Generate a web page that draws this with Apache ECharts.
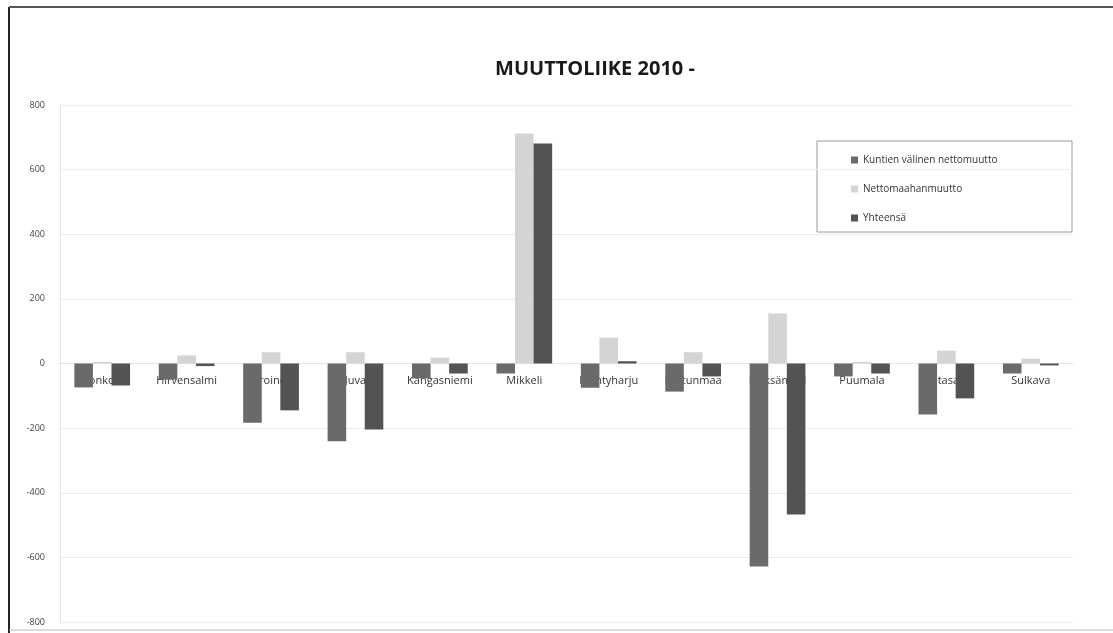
<!DOCTYPE html>
<html>
<head>
<meta charset="utf-8">
<script src="https://cdn.jsdelivr.net/npm/echarts@6/dist/echarts.min.js"></script>
<style>
  html, body { margin: 0; padding: 0; background: #fff; }
  #Canvas { width: 1113px; height: 633px; }
</style>
</head>
<body>
<div id="Canvas"></div>
<script>
  // kunnat
  var kunnat = ['Enonkoski', 'Hirvensalmi', 'Joroinen', 'Juva', 'Kangasniemi', 'Mikkeli',
    'Mäntyharju', 'Pertunmaa', 'Pieksämäki', 'Puumala', 'Rantasalmi', 'Sulkava'];
  var kuntienValinen = [-74, -50, -183, -241, -46, -31, -75, -87, -628, -40, -158, -31];
  var nettomaahanmuutto = [5, 25, 35, 35, 18, 712, 80, 35, 155, 5, 40, 15];
  var yhteensa = [-68, -8, -145, -204, -31, 681, 7, -40, -467, -31, -108, -6];
  var yTicks = [-800, -600, -400, -200, 0, 200, 400, 600, 800];

  var gridTop = 105, gridBottom = 11, chartH = 633;
  // nolla-akselin siirto: kategoria-akseli piirretään nollan kohdalle
  var plotH = chartH - gridTop - gridBottom;
  var zeroShift = -plotH * (0 - yTicks[0]) / (yTicks[yTicks.length - 1] - yTicks[0]);

  var myChart = echarts.init(document.getElementById('Canvas'));
  var option = {
    animation: false,
    backgroundColor: '#fff',
    textStyle: { fontFamily: 'Open Sans' },
    title: {
      text: 'MUUTTOLIIKE 2010 -',
      left: 590,
      textAlign: 'center',
      top: 54,
      textStyle: { fontSize: 20, fontWeight: 'bold', color: '#1a1a1a', fontFamily: 'Open Sans' }
    },
    graphic: [
      { type: 'line', shape: { x1: 9, y1: 7, x2: 9, y2: 633 }, style: { stroke: '#222', lineWidth: 2 } },
      { type: 'line', shape: { x1: 9, y1: 7, x2: 1113, y2: 7 }, style: { stroke: '#555', lineWidth: 2 } },
      { type: 'line', shape: { x1: 9, y1: 630, x2: 1113, y2: 630 }, style: { stroke: '#bbb', lineWidth: 1 } },
      { type: 'rect', shape: { x: 817, y: 141, width: 255, height: 91 }, style: { fill: 'none', stroke: '#999', lineWidth: 1 } }
    ],
    legend: {
      orient: 'vertical',
      left: 846,
      top: 150,
      itemWidth: 7,
      itemHeight: 7,
      itemGap: 19,
      icon: 'rect',
      textStyle: { fontSize: 10, color: '#333' },
      data: ['Kuntien välinen nettomuutto', 'Nettomaahanmuutto', 'Yhteensä']
    },
    grid: { left: 60, right: 40, top: gridTop, bottom: gridBottom },
    xAxis: {
      type: 'category',
      data: kunnat,
      offset: zeroShift,
      axisLine: { onZero: false, lineStyle: { color: '#e4e4e4' } },
      axisTick: { show: false },
      axisLabel: { margin: 12, fontSize: 11, color: '#333', interval: 0 }
    },
    yAxis: {
      type: 'value',
      min: yTicks[0],
      max: yTicks[yTicks.length - 1],
      interval: 200,
      axisLine: { show: true, lineStyle: { color: '#e4e4e4' } },
      axisTick: { show: false },
      axisLabel: { fontSize: 9, color: '#444', margin: 15 },
      splitLine: { lineStyle: { color: '#ececec' } }
    },
    series: [
      {
        name: 'Kuntien välinen nettomuutto',
        type: 'bar',
        barGap: '0%',
        barCategoryGap: '34%',
        itemStyle: { color: '#6a6a6a' },
        data: kuntienValinen
      },
      {
        name: 'Nettomaahanmuutto',
        type: 'bar',
        barGap: '0%',
        barCategoryGap: '34%',
        itemStyle: { color: '#d4d4d4' },
        data: nettomaahanmuutto
      },
      {
        name: 'Yhteensä',
        type: 'bar',
        barGap: '0%',
        barCategoryGap: '34%',
        itemStyle: { color: '#535353' },
        data: yhteensa
      }
    ]
  };
  myChart.setOption(option);
</script>
</body>
</html>
